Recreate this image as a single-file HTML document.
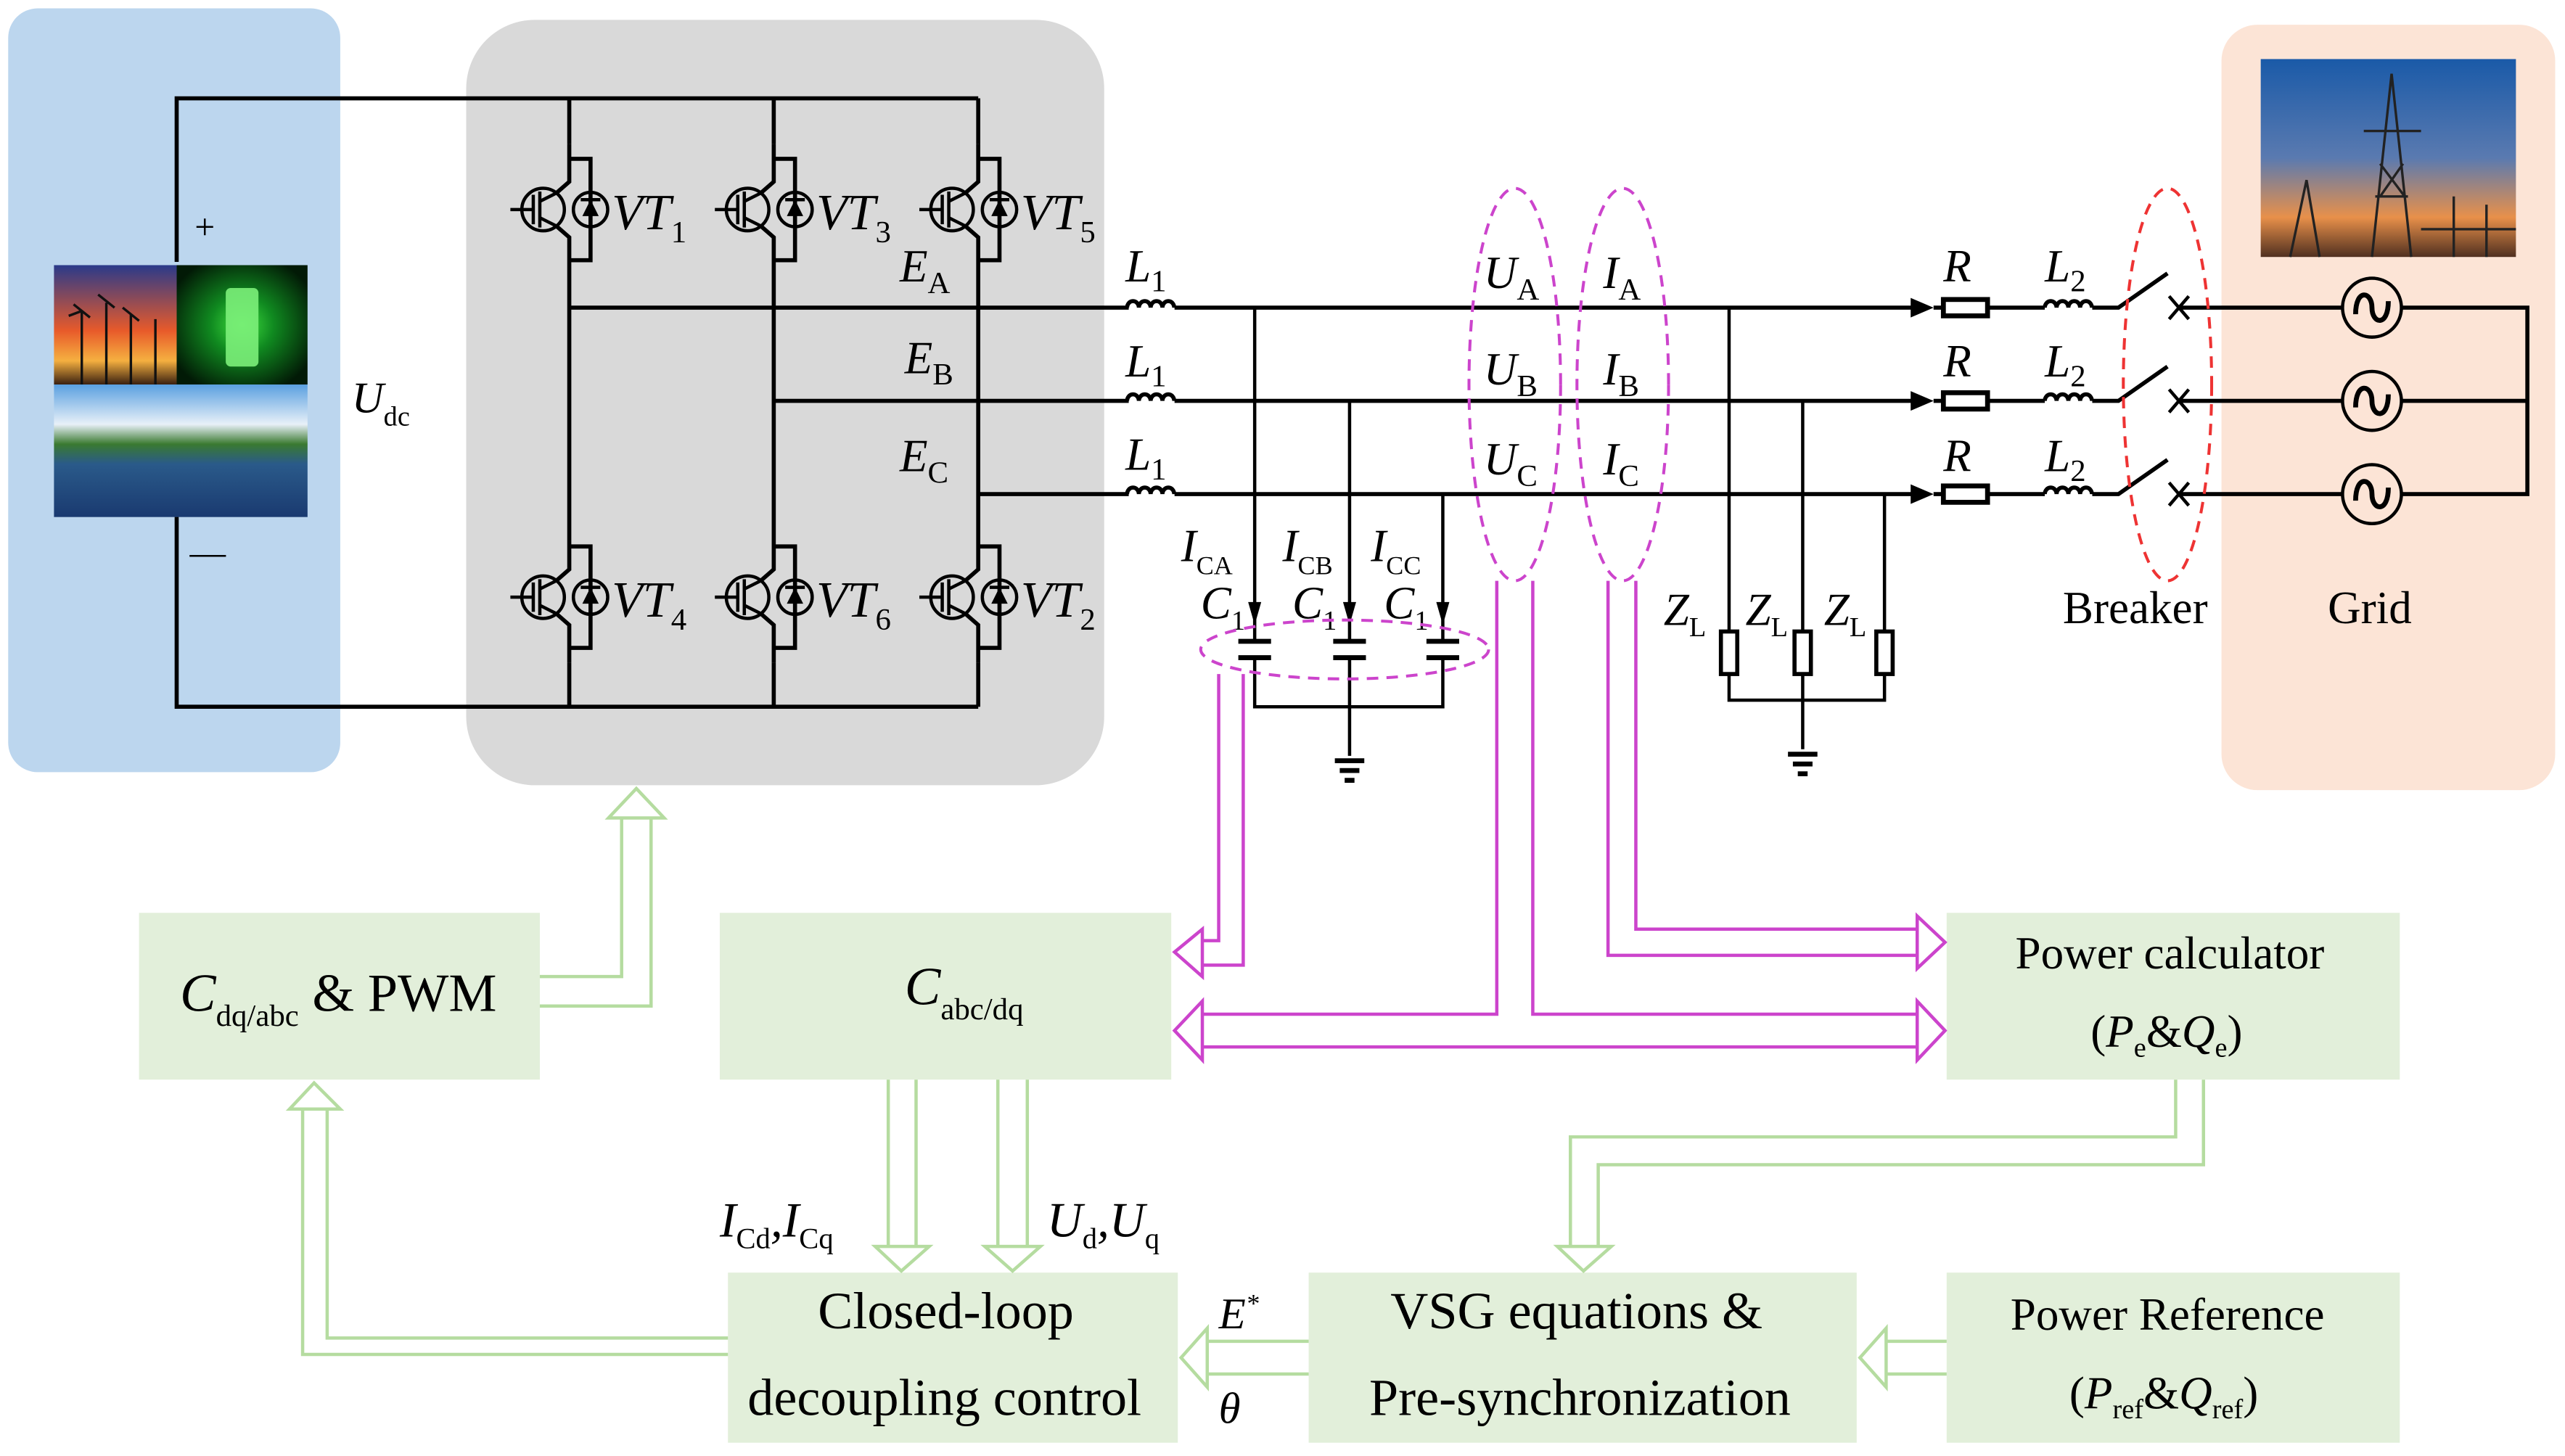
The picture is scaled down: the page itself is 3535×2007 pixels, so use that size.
<!DOCTYPE html>
<html><head><meta charset="utf-8"><style>
html,body{margin:0;padding:0;background:#fff;font-family:"Liberation Serif","Times New Roman",Times,"DejaVu Serif",serif;}
svg{display:block;}
svg text, svg tspan{font-family:"Liberation Serif","Times New Roman",Times,"DejaVu Serif",serif;fill:#000;}
.i{font-style:italic;}
.s{font-style:normal;}
</style></head><body>
<svg width="3535" height="2007" viewBox="0 0 1568 890" xmlns="http://www.w3.org/2000/svg">
<defs>
<linearGradient id="sun" x1="0" y1="0" x2="0" y2="1"><stop offset="0" stop-color="#2a3a8a"/><stop offset="0.55" stop-color="#e85a2a"/><stop offset="0.8" stop-color="#f5b040"/><stop offset="1" stop-color="#3a2010"/></linearGradient>
<radialGradient id="bat" cx="0.5" cy="0.5" r="0.6"><stop offset="0" stop-color="#40e040"/><stop offset="0.4" stop-color="#108a20"/><stop offset="1" stop-color="#021a06"/></radialGradient>
<linearGradient id="sol" x1="0" y1="0" x2="0" y2="1"><stop offset="0" stop-color="#5aa0e0"/><stop offset="0.3" stop-color="#e8f0f8"/><stop offset="0.45" stop-color="#3a7a30"/><stop offset="0.6" stop-color="#2a5a8a"/><stop offset="1" stop-color="#1a3a70"/></linearGradient>
<linearGradient id="gp" x1="0" y1="0" x2="0" y2="1"><stop offset="0" stop-color="#1a5aa8"/><stop offset="0.5" stop-color="#5a7ab0"/><stop offset="0.8" stop-color="#e8904a"/><stop offset="1" stop-color="#503020"/></linearGradient>
<g id="sw" fill="none" stroke="#000" stroke-width="2">
 <path d="M0,-40 V-31 H13 V31 H0 V40 M0,-31 V-17 L-8,-10 M-8,10 L0,17 V31" stroke-width="2.5"/>
 <circle cx="-16" cy="0" r="13"/>
 <path d="M-36,0 H-22 M-22,-9 V9 M-18,-11 V11 M-18,-5 L-8,-10 M-18,5 L-8,10"/>
 <circle cx="13" cy="0" r="10.5"/>
 <path d="M7,-6 H19" stroke-width="2"/>
 <polygon points="13,-6 8,4 18,4" fill="#000" stroke="none"/>
</g>
<g id="ind" fill="none" stroke="#000" stroke-width="2.5"><path d="M0,0 a3.6,4 0 0 1 7.2,0 a3.6,4 0 0 1 7.2,0 a3.6,4 0 0 1 7.2,0 a3.6,4 0 0 1 7.2,0"/></g>
<g id="gnd" stroke="#000"><path d="M-9,0 H9" stroke-width="3"/><path d="M-6,6 H6" stroke-width="3"/><path d="M-3,12 H3" stroke-width="3"/></g>
</defs>

<rect x="5" y="5" width="203" height="467" rx="18" fill="#bcd6ee"/>
<rect x="285" y="12" width="390" height="468" rx="42" fill="#d9d9d9"/>
<rect x="1358" y="15" width="204" height="468" rx="22" fill="#fce4d6"/>

<rect x="33" y="162" width="75" height="73" fill="url(#sun)"/>
<g stroke="#111" stroke-width="1.5"><path d="M50,235 V190 M65,235 V185 M80,235 V192 M95,235 V195 M45,186 L55,194 M50,190 L42,193 M60,180 L70,188 M75,188 L85,196"/></g>
<rect x="108" y="162" width="80" height="73" fill="url(#bat)"/>
<rect x="138" y="176" width="20" height="48" rx="3" fill="#7cf07a" opacity="0.9"/>
<rect x="33" y="235" width="155" height="81" fill="url(#sol)"/>
<rect x="1382" y="36" width="156" height="121" fill="url(#gp)"/>
<g stroke="#222" stroke-width="1.5" fill="none"><path d="M1450,157 L1462,45 L1474,157 M1452,120 H1472 M1445,80 H1480 M1455,100 L1470,120 M1469,100 L1455,120 M1400,157 L1410,110 L1418,157 M1500,157 V120 M1520,157 V125 M1480,140 H1538"/></g>

<g stroke="#000" stroke-width="2.5" fill="none">
<path d="M108,160 V60 H598 M108,316 V432 H598"/>
<path d="M348,60 V88 M348,168 V325 M348,405 V432"/>
<path d="M473,60 V88 M473,168 V325 M473,405 V432"/>
<path d="M598,60 V88 M598,168 V325 M598,405 V432"/>
<path d="M348,188 H690 M718,188 H1170"/>
<path d="M473,245 H690 M718,245 H1170"/>
<path d="M598,302 H690 M718,302 H1170"/>
</g>
<use href="#sw" x="348" y="128"/><use href="#sw" x="473" y="128"/><use href="#sw" x="598" y="128"/>
<use href="#sw" x="348" y="365"/><use href="#sw" x="473" y="365"/><use href="#sw" x="598" y="365"/>

<text x="119" y="146" font-size="22">+</text>
<text x="116" y="345" font-size="22">—</text>
<text x="215" y="252" font-size="27" class="i">U<tspan class="s" font-size="17" dy="8">dc</tspan></text>

<g font-size="31" class="i">
<text x="374" y="140">VT<tspan class="s" font-size="19" dy="8">1</tspan></text>
<text x="499" y="140">VT<tspan class="s" font-size="19" dy="8">3</tspan></text>
<text x="624" y="140">VT<tspan class="s" font-size="19" dy="8">5</tspan></text>
<text x="374" y="377">VT<tspan class="s" font-size="19" dy="8">4</tspan></text>
<text x="499" y="377">VT<tspan class="s" font-size="19" dy="8">6</tspan></text>
<text x="624" y="377">VT<tspan class="s" font-size="19" dy="8">2</tspan></text>
</g>
<g font-size="28" class="i">
<text x="550" y="172">E<tspan class="s" font-size="19" dy="7">A</tspan></text>
<text x="553" y="228">E<tspan class="s" font-size="19" dy="7">B</tspan></text>
<text x="550" y="288">E<tspan class="s" font-size="19" dy="7">C</tspan></text>
</g>

<use href="#ind" x="689" y="188"/><use href="#ind" x="689" y="245"/><use href="#ind" x="689" y="302"/>
<g font-size="28" class="i">
<text x="688" y="172">L<tspan class="s" font-size="19" dy="6">1</tspan></text>
<text x="688" y="230">L<tspan class="s" font-size="19" dy="6">1</tspan></text>
<text x="688" y="287">L<tspan class="s" font-size="19" dy="6">1</tspan></text>
</g>

<g stroke="#000" stroke-width="2" fill="none">
<path d="M767,188 V392 M825,245 V392 M882,302 V392"/>
<path d="M767,402 V432 H882 V402 M825,402 V462"/>
<path d="M757,392 H777 M757,402 H777 M815,392 H835 M815,402 H835 M872,392 H892 M872,402 H892" stroke-width="3"/>
</g>
<g fill="#000"><polygon points="763,368 771,368 767,382"/><polygon points="821,368 829,368 825,382"/><polygon points="878,368 886,368 882,382"/></g>
<use href="#gnd" x="825" y="465"/>
<g font-size="28" class="i">
<text x="722" y="343">I<tspan class="s" font-size="16" dy="8">CA</tspan></text>
<text x="784" y="343">I<tspan class="s" font-size="16" dy="8">CB</tspan></text>
<text x="838" y="343">I<tspan class="s" font-size="16" dy="8">CC</tspan></text>
<text x="734" y="378">C<tspan class="s" font-size="17" dy="7">1</tspan></text>
<text x="790" y="378">C<tspan class="s" font-size="17" dy="7">1</tspan></text>
<text x="846" y="378">C<tspan class="s" font-size="17" dy="7">1</tspan></text>
</g>

<g stroke="#000" stroke-width="2" fill="none">
<path d="M1057,188 V386 M1102,245 V386 M1152,302 V386"/>
<rect x="1052" y="386" width="10" height="26" stroke-width="2.5"/>
<rect x="1097" y="386" width="10" height="26" stroke-width="2.5"/>
<rect x="1147" y="386" width="10" height="26" stroke-width="2.5"/>
<path d="M1057,412 V428 H1152 V412 M1102,412 V458"/>
</g>
<use href="#gnd" x="1102" y="461"/>
<g font-size="28" class="i">
<text x="1017" y="382">Z<tspan class="s" font-size="17" dy="7">L</tspan></text>
<text x="1067" y="382">Z<tspan class="s" font-size="17" dy="7">L</tspan></text>
<text x="1115" y="382">Z<tspan class="s" font-size="17" dy="7">L</tspan></text>
</g>

<g font-size="28" class="i">
<text x="907" y="176">U<tspan class="s" font-size="19" dy="7">A</tspan></text>
<text x="907" y="235">U<tspan class="s" font-size="19" dy="7">B</tspan></text>
<text x="907" y="290">U<tspan class="s" font-size="19" dy="7">C</tspan></text>
<text x="980" y="176">I<tspan class="s" font-size="19" dy="7">A</tspan></text>
<text x="980" y="235">I<tspan class="s" font-size="19" dy="7">B</tspan></text>
<text x="980" y="290">I<tspan class="s" font-size="19" dy="7">C</tspan></text>
</g>

<g fill="#000"><polygon points="1168,182 1182,188 1168,194"/><polygon points="1168,239 1182,245 1168,251"/><polygon points="1168,296 1182,302 1168,308"/></g>
<g stroke="#000" stroke-width="2.5" fill="none">
<path d="M1182,188 H1188 M1215,188 H1250 M1279,188 H1295 L1325,167"/>
<path d="M1182,245 H1188 M1215,245 H1250 M1279,245 H1295 L1325,224"/>
<path d="M1182,302 H1188 M1215,302 H1250 M1279,302 H1295 L1325,281"/>
<rect x="1188" y="183" width="27" height="10" stroke-width="3"/>
<rect x="1188" y="240" width="27" height="10" stroke-width="3"/>
<rect x="1188" y="297" width="27" height="10" stroke-width="3"/>
<path d="M1326,181 L1338,195 M1338,181 L1326,195 M1326,238 L1338,252 M1338,238 L1326,252 M1326,295 L1338,309 M1338,295 L1326,309" stroke-width="2"/>
<path d="M1332,188 H1432 M1468,188 H1545 V302 H1468 M1332,245 H1432 M1468,245 H1545 M1332,302 H1432"/>
<circle cx="1450" cy="188" r="18" stroke-width="2"/><circle cx="1450" cy="245" r="18" stroke-width="2"/><circle cx="1450" cy="302" r="18" stroke-width="2"/>
<path d="M1440,192 C1440,176 1450,178 1450,188 C1450,198 1460,200 1460,184" stroke-width="3"/>
<path d="M1440,249 C1440,233 1450,235 1450,245 C1450,255 1460,257 1460,241" stroke-width="3"/>
<path d="M1440,306 C1440,290 1450,292 1450,302 C1450,312 1460,314 1460,298" stroke-width="3"/>
</g>
<use href="#ind" x="1250" y="188"/><use href="#ind" x="1250" y="245"/><use href="#ind" x="1250" y="302"/>
<g font-size="28" class="i">
<text x="1188" y="172">R</text><text x="1188" y="230">R</text><text x="1188" y="288">R</text>
<text x="1250" y="172">L<tspan class="s" font-size="19" dy="6">2</tspan></text>
<text x="1250" y="230">L<tspan class="s" font-size="19" dy="6">2</tspan></text>
<text x="1250" y="288">L<tspan class="s" font-size="19" dy="6">2</tspan></text>
</g>
<text x="1261" y="381" font-size="28">Breaker</text>
<text x="1423" y="381" font-size="28">Grid</text>

<g fill="none" stroke-dasharray="7,5" stroke-width="1.8">
<ellipse cx="926" cy="235" rx="28" ry="120" stroke="#cc44cc"/>
<ellipse cx="992" cy="235" rx="28" ry="120" stroke="#cc44cc"/>
<ellipse cx="822" cy="397" rx="88" ry="18" stroke="#cc44cc"/>
<ellipse cx="1325" cy="235" rx="27" ry="120" stroke="#ee3333"/>
</g>

<g fill="#e2efda">
<rect x="85" y="558" width="245" height="102"/>
<rect x="440" y="558" width="276" height="102"/>
<rect x="1190" y="558" width="277" height="102"/>
<rect x="445" y="778" width="275" height="104"/>
<rect x="800" y="778" width="335" height="104"/>
<rect x="1190" y="778" width="277" height="104"/>
</g>
<text x="110" y="618" font-size="33"><tspan class="i">C</tspan><tspan font-size="19" dy="9">dq/abc</tspan><tspan dy="-9"> &amp; PWM</tspan></text>
<text x="553" y="614" font-size="33"><tspan class="i">C</tspan><tspan font-size="19" dy="9">abc/dq</tspan></text>
<text x="1232" y="592" font-size="28">Power calculator</text>
<text x="1278" y="640" font-size="28">(<tspan class="i">P</tspan><tspan font-size="17" dy="6">e</tspan><tspan dy="-6">&amp;</tspan><tspan class="i">Q</tspan><tspan font-size="17" dy="6">e</tspan><tspan dy="-6">)</tspan></text>
<text x="500" y="812" font-size="32">Closed-loop</text>
<text x="457" y="865" font-size="32">decoupling control</text>
<text x="850" y="812" font-size="32">VSG equations &amp;</text>
<text x="837" y="865" font-size="32">Pre-synchronization</text>
<text x="1229" y="813" font-size="28">Power Reference</text>
<text x="1265" y="861" font-size="28">(<tspan class="i">P</tspan><tspan font-size="17" dy="6">ref</tspan><tspan dy="-6">&amp;</tspan><tspan class="i">Q</tspan><tspan font-size="17" dy="6">ref</tspan><tspan dy="-6">)</tspan></text>
<text x="440" y="756" font-size="30" class="i">I<tspan font-size="18" class="s" dy="7">Cd</tspan><tspan dy="-7">,I</tspan><tspan font-size="18" class="s" dy="7">Cq</tspan></text>
<text x="640" y="756" font-size="30" class="i">U<tspan font-size="18" class="s" dy="7">d</tspan><tspan dy="-7">,U</tspan><tspan font-size="18" class="s" dy="7">q</tspan></text>
<text x="745" y="812" font-size="27" class="i">E<tspan font-size="16" dy="-10">*</tspan></text>
<text x="745" y="870" font-size="27" class="i">θ</text>

<g fill="none" stroke="#cc44cc" stroke-width="2">
<path d="M745,412 V575 H735 M760,412 V590 H735"/>
<polygon points="735,568 735,597 718,582"/>
<path d="M915,355 V620 H735 M937,355 V620 H1172 M735,640 H1172"/>
<polygon points="735,612 735,648 718,630"/>
<polygon points="1172,612 1172,648 1189,630"/>
<path d="M983,355 V584 H1172 M1000,355 V568 H1172"/>
<polygon points="1172,560 1172,592 1189,576"/>
</g>
<g fill="none" stroke="#b5dca0" stroke-width="2">
<path d="M330,597 H380 V500 M330,615 H398 V500"/>
<polygon points="372,500 406,500 389,482"/>
<path d="M543,660 V762 M560,660 V762"/><polygon points="535,762 568,762 551,777"/>
<path d="M610,660 V762 M628,660 V762"/><polygon points="602,762 636,762 619,777"/>
<path d="M1330,660 V695 H960 V762 M1347,660 V712 H977 V762"/><polygon points="952,762 985,762 968,777"/>
<path d="M1190,820 H1153 M1190,840 H1153"/><polygon points="1153,812 1153,848 1137,830"/>
<path d="M800,820 H738 M800,840 H738"/><polygon points="738,812 738,848 722,830"/>
<path d="M445,818 H200 V678 M445,828 H185 V678"/><polygon points="177,678 208,678 192,662"/>
</g>
</svg>
</body></html>
